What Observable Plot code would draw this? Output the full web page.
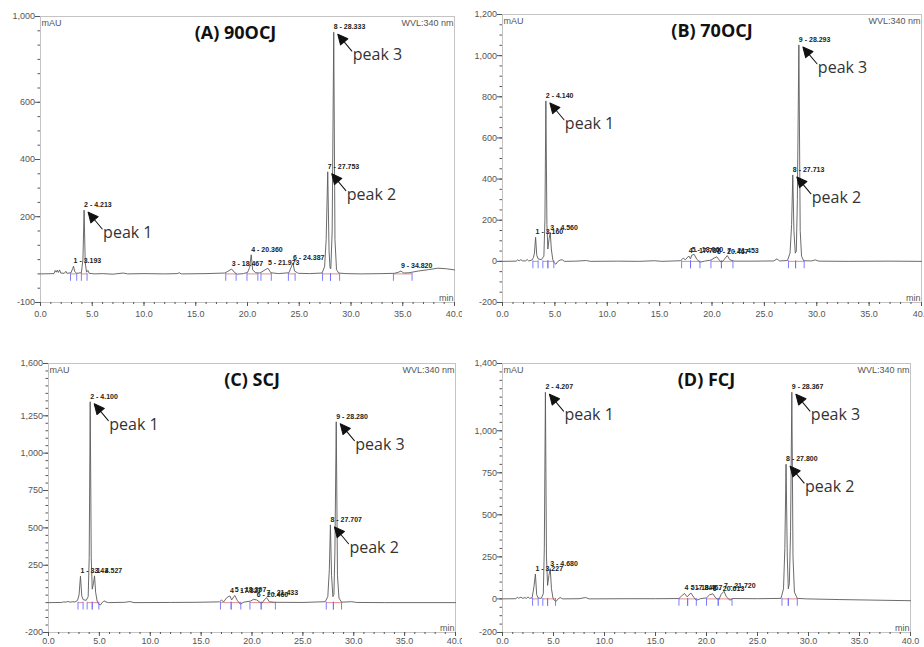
<!DOCTYPE html>
<html><head><meta charset="utf-8">
<script src="https://cdn.jsdelivr.net/npm/d3@7"></script>
<script src="https://cdn.jsdelivr.net/npm/@observablehq/plot@0.6"></script>
<style>
body{margin:0;background:#fff;}
#wrap{position:relative;width:924px;height:647px;overflow:hidden;background:#fff;}
.panel{position:absolute;}
</style></head><body><div id="wrap"></div>
<script>
// ---------- shared axis ----------
const xTicks = [0, 5, 10, 15, 20, 25, 30, 35, 40];
const xTickLabels = ["0.0", "5.0", "10.0", "15.0", "20.0", "25.0", "30.0", "35.0", "40.0"];
const unitText = "mAU";
const wavelengthText = "WVL:340 nm";
const timeUnitText = "min";

// ---------- (A) 90OCJ ----------
const titleA = "(A) 90OCJ";
const yTicksA = [-100, 200, 400, 600, 900];
const yTickLabelsA = ["-100", "200", "400", "600", "1,000"];
const traceA = [
[0,0],[1.3,1],[1.42,12],[1.52,6],[1.62,13],[1.72,5],[1.85,14],[1.95,3],[2.3,2],[2.45,9],[2.55,2],[2.95,4],[3.1,18],[3.193,27],[3.3,8],[3.5,2],[3.95,4],[4.1,50],[4.213,223],[4.32,40],[4.45,6],[4.58,12],[4.7,2],[5.2,0],[6,1],[7,-1],[8,3],[8.4,0],[10,1],[12,0],[13.2,1],[13.4,4],[13.6,0],[16,1],[17.8,3],[18.1,9],[18.467,17],[18.75,5],[19,-1],[19.6,1],[20.0,5],[20.2,22],[20.36,67],[20.5,14],[20.8,4],[21.2,3],[21.6,12],[21.973,20],[22.25,4],[23,1],[24.0,4],[24.2,22],[24.387,38],[24.55,10],[24.9,2],[26,1],[27.2,3],[27.45,25],[27.6,120],[27.753,357],[27.88,80],[27.98,20],[28.05,18],[28.18,150],[28.333,845],[28.45,120],[28.6,15],[28.8,3],[29.5,1],[31,0],[33,1],[34.2,2],[34.6,6],[34.82,10],[35.1,3],[35.6,4],[36.5,10],[37.5,15],[38.4,20],[39.2,18],[40,14]
];
const peaksA = [[1,3.193,27],[2,4.213,223],[3,18.467,17],[4,20.360,67],[5,21.973,20],[6,24.387,38],[7,27.753,357],[8,28.333,845],[9,34.820,10]];
const annotA = [["peak 1",2],["peak 2",7],["peak 3",8]];
const windowsA = [[2.9,3.5],[3.95,4.5],[17.9,18.9],[19.95,21.0],[21.3,22.3],[23.95,24.6],[27.25,28.02],[28.02,28.9],[34.1,35.9]];

// ---------- (B) 70OCJ ----------
const titleB = "(B) 70OCJ";
const yTicksB = [-200, 0, 200, 400, 600, 800, 1000, 1200];
const yTickLabelsB = ["-200", "0", "200", "400", "600", "800", "1,000", "1,200"];
const traceB = [
[0,0],[1.3,1],[1.45,7],[1.6,3],[1.75,8],[1.9,3],[2.2,2],[2.35,9],[2.5,2],[2.8,6],[2.95,18],[3.05,40],[3.16,117],[3.27,30],[3.4,12],[3.7,8],[3.95,25],[4.05,200],[4.14,780],[4.24,180],[4.33,60],[4.45,110],[4.56,140],[4.66,60],[4.8,8],[4.95,-8],[5.1,-14],[5.25,-2],[5.5,6],[5.7,8],[5.9,0],[7,1],[8,4],[8.4,0],[11,1],[13,0],[14.5,3],[15.2,0],[17.0,3],[17.25,16],[17.45,8],[17.787,26],[17.95,12],[18.06,30],[18.3,34],[18.55,10],[18.85,-4],[19.3,1],[19.9,6],[20.2,16],[20.467,22],[20.7,6],[20.9,-5],[21.15,8],[21.453,28],[21.7,8],[22.1,1],[24,1],[25.9,2],[26.2,12],[26.45,2],[27.2,4],[27.45,40],[27.6,180],[27.713,420],[27.82,150],[27.95,40],[28.05,50],[28.15,300],[28.293,1052],[28.42,150],[28.55,25],[28.75,3],[29.5,2],[29.85,7],[30.2,1],[33,0],[37,1],[40,0]
];
const peaksB = [[1,3.160,117],[2,4.140,780],[3,4.560,140],[4,17.787,26],[5,18.060,30],[6,20.467,22],[7,21.453,28],[8,27.713,420],[9,28.293,1052]];
const annotB = [["peak 1",2],["peak 2",8],["peak 3",9]];
const windowsB = [[2.9,3.4],[3.85,4.33],[4.33,4.9],[17.1,17.95],[17.95,18.85],[19.9,20.9],[20.9,22.0],[27.3,27.98],[27.98,28.8]];

// ---------- (C) SCJ ----------
const titleC = "(C) SCJ";
const yTicksC = [-200, 250, 500, 750, 1000, 1250, 1600];
const yTickLabelsC = ["-200", "250", "500", "750", "1,000", "1,250", "1,600"];
const traceC = [
[0,0],[1.3,1],[1.5,5],[1.7,3],[1.9,8],[2.1,3],[2.4,6],[2.6,4],[2.85,15],[3.0,50],[3.143,177],[3.27,45],[3.4,20],[3.7,15],[3.9,40],[4.0,300],[4.1,1344],[4.2,300],[4.3,90],[4.42,130],[4.527,179],[4.63,70],[4.78,10],[4.95,-12],[5.1,-16],[5.25,-2],[5.45,12],[5.65,4],[5.9,0],[7.5,2],[8.0,7],[8.4,0],[12,1],[14.5,2],[16.8,5],[17.0,18],[17.2,4],[17.55,35],[17.827,45],[18.0,18],[18.307,48],[18.55,15],[18.85,-10],[19.2,3],[19.85,10],[20.15,22],[20.46,18],[20.7,6],[20.95,-6],[21.2,18],[21.433,33],[21.7,6],[22.2,2],[25,1],[27.2,6],[27.45,40],[27.6,220],[27.707,520],[27.82,180],[27.95,40],[28.05,55],[28.15,350],[28.28,1210],[28.4,180],[28.55,30],[28.8,3],[29.8,6],[30.3,1],[33,0],[40,0]
];
const peaksC = [[1,3.143,177],[2,4.100,1344],[3,4.527,179],[4,17.827,45],[5,18.307,48],[6,20.460,18],[7,21.433,33],[8,27.707,520],[9,28.280,1210]];
const annotC = [["peak 1",2],["peak 2",8],["peak 3",9]];
const windowsC = [[2.9,3.4],[3.8,4.3],[4.3,4.95],[16.9,17.95],[17.95,18.9],[19.8,20.9],[20.9,22.3],[27.3,28.0],[28.0,28.8]];

// ---------- (D) FCJ ----------
const titleD = "(D) FCJ";
const yTicksD = [-200, 0, 250, 500, 750, 1000, 1400];
const yTickLabelsD = ["-200", "0", "250", "500", "750", "1,000", "1,400"];
const traceD = [
[0,0],[1.3,1],[1.45,9],[1.6,4],[1.8,10],[2.0,3],[2.2,8],[2.35,2],[2.5,12],[2.65,3],[2.9,6],[3.0,40],[3.1,80],[3.227,148],[3.35,25],[3.5,5],[3.8,3],[4.0,30],[4.1,300],[4.207,1229],[4.31,250],[4.42,80],[4.55,140],[4.68,180],[4.8,60],[4.95,5],[5.1,-10],[5.25,-16],[5.4,-3],[5.65,8],[5.9,0],[7.5,1],[8.15,8],[8.5,0],[12,1],[15,1],[17.3,2],[17.6,20],[17.847,32],[18.1,12],[18.467,35],[18.75,10],[19.0,-8],[19.4,1],[20.0,6],[20.3,24],[20.613,30],[20.9,6],[21.2,-6],[21.45,28],[21.72,45],[21.95,12],[22.3,-8],[22.6,2],[25,1],[27.3,3],[27.55,60],[27.68,300],[27.8,801],[27.92,250],[28.02,60],[28.12,90],[28.24,400],[28.367,1229],[28.48,250],[28.62,40],[28.9,3],[29.8,0],[33,-4],[36,-7],[40,-11]
];
const peaksD = [[1,3.227,148],[2,4.207,1229],[3,4.680,180],[4,17.847,32],[5,18.467,35],[6,20.613,30],[7,21.720,45],[8,27.800,801],[9,28.367,1229]];
const annotD = [["peak 1",2],["peak 2",8],["peak 3",9]];
const windowsD = [[2.95,3.5],[3.95,4.42],[4.42,5.2],[17.3,18.15],[18.15,19.0],[20.0,21.15],[21.15,22.5],[27.4,28.02],[28.02,28.9]];

// ---------- drawing ----------
const arrowShape = {
  draw(ctx, l) {
    const h = 10, w = 4.8;
    ctx.moveTo(0, 0);
    ctx.lineTo(0, -l + h - 1);
    ctx.moveTo(0, -l);
    ctx.lineTo(-w, -l + h);
    ctx.lineTo(w, -l + h);
    ctx.closePath();
  }
};
const barShape = { draw(ctx, l) { ctx.moveTo(0, 0); ctx.lineTo(0, -l); } };

function panel(cfg) {
  const peaks = cfg.peaks.map(([n, t, h]) => ({n, t, h, label: `${n} - ${t.toFixed(3)}`}));
  const ann = cfg.annot.map(([text, n]) => { const p = peaks.find(q => q.n === n); return {text, t: p.t, h: p.h}; });
  const trace = cfg.trace.map(([t, v]) => ({t, v}));
  const win = cfg.windows.map(([a, b]) => ({a, b}));
  const bounds = cfg.windows.flat().map(t => ({t}));
  const yLab = new Map(cfg.yTicks.map((d, i) => [d, cfg.yTickLabels[i]]));
  const xLab = new Map(xTicks.map((d, i) => [d, xTickLabels[i]]));
  const [y0, y1] = cfg.yDomain;
  return Plot.plot({
    width: 462, height: cfg.height,
    marginLeft: cfg.m[0], marginRight: cfg.m[1], marginTop: cfg.m[2], marginBottom: cfg.m[3],
    x: {domain: [0, 40], label: null},
    y: {domain: cfg.yDomain, label: null},
    style: {fontFamily: "'Liberation Sans', Arial, sans-serif", fontSize: "9px", color: "#555", background: "#fff", overflow: "hidden"},
    marks: [
      Plot.frame({stroke: "#c4c4c4"}),
      Plot.axisY({ticks: d3.range(y0, y1 + 1, 50), tickSize: 2.5, tickFormat: () => "", label: null}),
      Plot.axisY({ticks: cfg.yTicks, tickFormat: d => yLab.get(d), tickSize: 5, tickPadding: 0.5, line: true, label: null, fill: "#555"}),
      Plot.axisX({ticks: d3.range(0, 41, 1), tickSize: 2, tickFormat: () => "", label: null}),
      Plot.axisX({ticks: xTicks, tickFormat: d => xLab.get(d), tickSize: 4, tickPadding: cfg.xPad, line: true, label: null, fill: "#555"}),
      Plot.link(win, {x1: "a", x2: "b", y1: () => 0, y2: () => 0, stroke: "#e07070", strokeWidth: 0.8}),
      Plot.line(trace, {x: "t", y: "v", stroke: "#5a5a5a", strokeWidth: 0.9}),
      Plot.vector(bounds, {x: "t", y: () => 0, length: 7, rotate: 0, anchor: "middle", dy: 3, shape: barShape, stroke: "#6f6fff", strokeWidth: 0.9}),
      Plot.text(peaks, {x: "t", y: "h", text: "label", textAnchor: "start", lineAnchor: "bottom", dy: -3, fontSize: 7, fontWeight: "bold", fill: "#222"}),
      Plot.vector(ann, {x: "t", y: "h", anchor: "end", rotate: -40, length: 22, dx: 4, dy: 2, shape: arrowShape, stroke: "#111", fill: "#111", strokeWidth: 1}),
      Plot.text(ann, {x: "t", y: "h", text: "text", textAnchor: "start", lineAnchor: "bottom", dx: 19, dy: 28, fontSize: 16, fontFamily: "'Open Sans', sans-serif", fill: "#333"}),
      Plot.text([cfg.title], {text: d => d, frameAnchor: "top", dx: cfg.titleDx, dy: 22, lineAnchor: "bottom", fontSize: 18, fontWeight: "bold", fontFamily: "'Open Sans', sans-serif", fill: "#111"}),
      Plot.text([unitText], {text: d => d, frameAnchor: "top-left", dx: 1, dy: 9, lineAnchor: "bottom", textAnchor: "start", fill: "#555"}),
      Plot.text([wavelengthText], {text: d => d, frameAnchor: "top-right", dx: -1, dy: 9, lineAnchor: "bottom", textAnchor: "end", fill: "#555"}),
      Plot.text([timeUnitText], {text: d => d, frameAnchor: "bottom-right", dx: -1, dy: -2, lineAnchor: "bottom", textAnchor: "end", fill: "#555"})
    ]
  });
}

const panels = [
  {left: 0, top: 0, height: 320, m: [40, 8, 16, 18], xPad: 4, title: titleA, titleDx: -12, yDomain: [-100, 900], yTicks: yTicksA, yTickLabels: yTickLabelsA, trace: traceA, peaks: peaksA, annot: annotA, windows: windowsA},
  {left: 462, top: 0, height: 320, m: [40, 3, 14, 18], xPad: 4, title: titleB, titleDx: 0, yDomain: [-200, 1200], yTicks: yTicksB, yTickLabels: yTickLabelsB, trace: traceB, peaks: peaksB, annot: annotB, windows: windowsB},
  {left: 0, top: 320, height: 327, m: [48, 7, 43, 15], xPad: 1, title: titleC, titleDx: 0, yDomain: [-200, 1600], yTicks: yTicksC, yTickLabels: yTickLabelsC, trace: traceC, peaks: peaksC, annot: annotC, windows: windowsC},
  {left: 462, top: 320, height: 327, m: [40, 14, 43, 15], xPad: 1, title: titleD, titleDx: 0, yDomain: [-200, 1400], yTicks: yTicksD, yTickLabels: yTickLabelsD, trace: traceD, peaks: peaksD, annot: annotD, windows: windowsD}
];

const wrap = document.getElementById("wrap");
for (const cfg of panels) {
  const div = document.createElement("div");
  div.className = "panel";
  div.style.left = cfg.left + "px";
  div.style.top = cfg.top + "px";
  div.appendChild(panel(cfg));
  wrap.appendChild(div);
}
</script></body></html>
